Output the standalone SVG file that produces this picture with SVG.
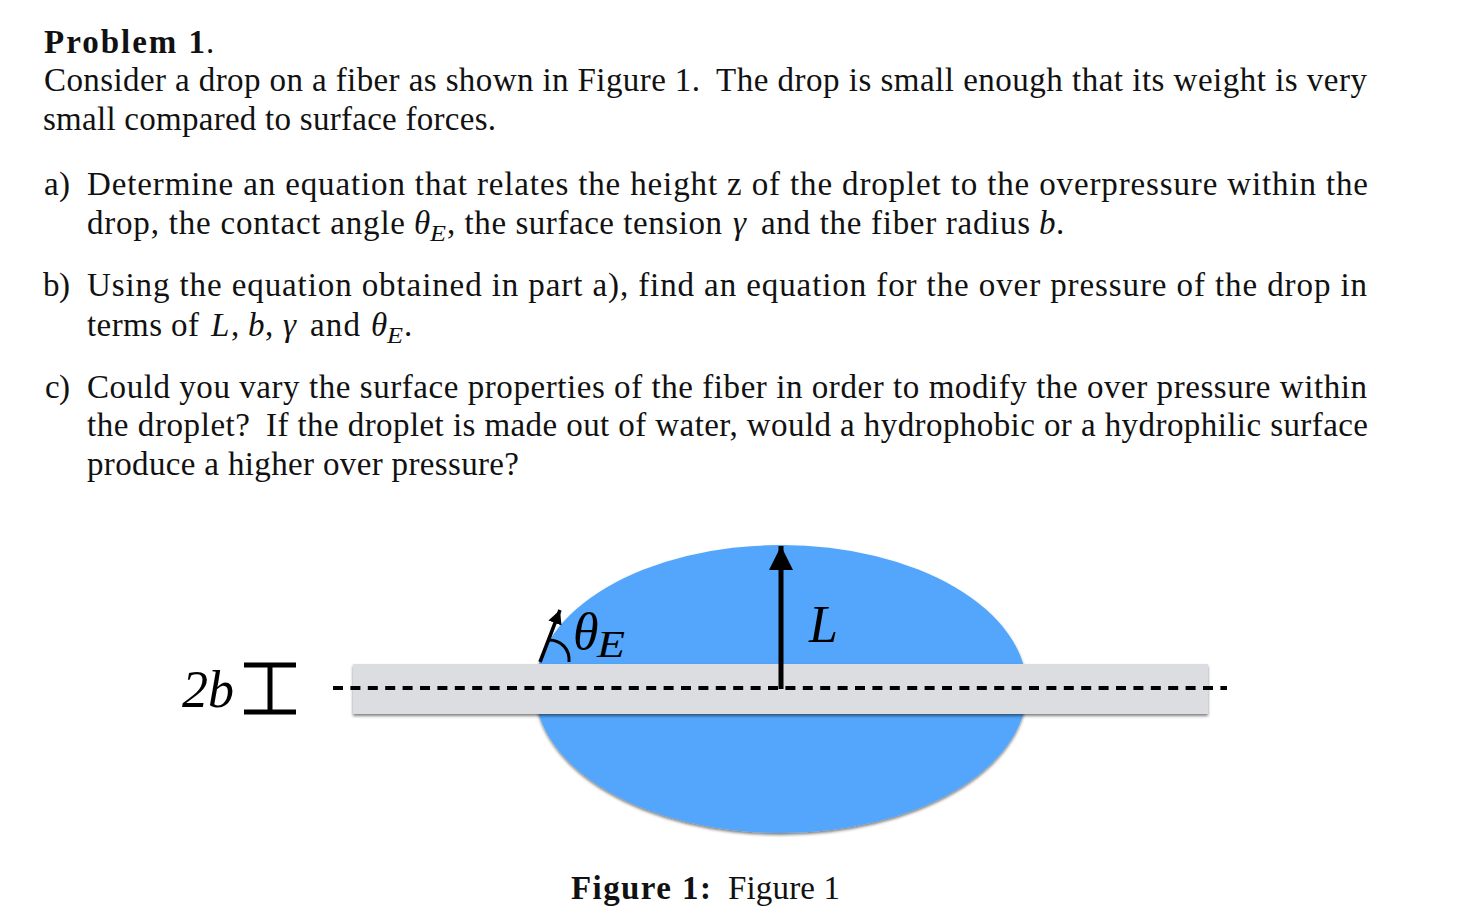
<svg xmlns="http://www.w3.org/2000/svg" width="1460" height="922" viewBox="0 0 1460 922">
<style>
text{font-family:"Liberation Serif","Times New Roman",serif;fill:#111;font-size:33px}
.b{font-weight:bold;font-size:33px}
.i{font-style:italic}
.s{font-style:italic;font-size:24px}
.big{font-style:italic;font-size:52px;fill:#000}
</style>
<defs>
<filter id="sh" x="-5%" y="-10%" width="110%" height="125%"><feDropShadow dx="0" dy="2" stdDeviation="1.5" flood-color="#000" flood-opacity="0.5"/></filter>
<marker id="h1" markerUnits="userSpaceOnUse" markerWidth="26" markerHeight="26" refX="24" refY="12" orient="auto"><path d="M0 0L24 12L0 24Z" fill="#000"/></marker>
<marker id="h2" markerUnits="userSpaceOnUse" markerWidth="16" markerHeight="16" refX="14" refY="7" orient="auto"><path d="M0 0L14 7L0 14Z" fill="#000"/></marker>
</defs>
<rect width="1460" height="922" fill="#fff"/>
<g id="problem-text">
<text class="b" x="44" y="53" textLength="161">Problem 1</text><text x="206" y="53">.</text>
<text x="44" y="91" textLength="656">Consider a drop on a fiber as shown in Figure 1.</text>
<text x="716" y="91" textLength="651">The drop is small enough that its weight is very</text>
<text x="43" y="130" textLength="453">small compared to surface forces.</text>
<text x="44" y="195" textLength="26">a)</text>
<text x="87" y="195" textLength="1281">Determine an equation that relates the height z of the droplet to the overpressure within the</text>
<text x="87" y="234" textLength="318">drop, the contact angle</text>
<text class="i" x="414" y="234">θ</text><text class="s" x="430" y="241" textLength="16" lengthAdjust="spacingAndGlyphs">E</text>
<text x="447" y="234" textLength="275">, the surface tension</text>
<text class="i" x="733" y="234">γ</text>
<text x="761" y="234" textLength="269">and the fiber radius</text>
<text class="i" x="1039" y="234">b</text><text x="1056" y="234">.</text>
<text x="43" y="296" textLength="27">b)</text>
<text x="87" y="296" textLength="1280">Using the equation obtained in part a), find an equation for the over pressure of the drop in</text>
<text x="87" y="336" textLength="112">terms of</text>
<text class="i" x="211" y="336">L</text><text x="231" y="336">,</text>
<text class="i" x="248" y="336">b</text><text x="265" y="336">,</text>
<text class="i" x="283" y="336">γ</text>
<text x="310" y="336" textLength="50">and</text>
<text class="i" x="371" y="336">θ</text><text class="s" x="387" y="343" textLength="16" lengthAdjust="spacingAndGlyphs">E</text><text x="404" y="336">.</text>
<text x="45" y="398" textLength="25">c)</text>
<text x="87" y="398" textLength="1280">Could you vary the surface properties of the fiber in order to modify the over pressure within</text>
<text x="87" y="436" textLength="163">the droplet?</text>
<text x="266" y="436" textLength="1102">If the droplet is made out of water, would a hydrophobic or a hydrophilic surface</text>
<text x="87" y="475" textLength="432">produce a higher over pressure?</text>
</g>
<g id="drop"><ellipse cx="781" cy="689" rx="246" ry="144" fill="#52a6fb" filter="url(#sh)"/></g>
<g id="fiber"><rect x="353" y="664" width="855" height="50" fill="#dcdde0" filter="url(#sh)"/></g>
<g id="connectors" fill="none" stroke="#000">
<line x1="333" y1="688" x2="1227" y2="688" stroke-width="4" stroke-dasharray="10 7.4"/>
<line x1="781" y1="689" x2="781" y2="546" stroke-width="5" marker-end="url(#h1)"/>
<line x1="540" y1="662" x2="560" y2="610" stroke-width="3.5" marker-end="url(#h2)"/>
<path d="M549 640C561 640 570 649 569 662" stroke-width="3"/>
</g>
<g id="bracket-2b" stroke="#000" stroke-width="5"><line x1="244" y1="665" x2="296" y2="665"/><line x1="244" y1="712" x2="296" y2="712"/><line x1="270" y1="665" x2="270" y2="712"/></g>
<g id="label-2b"><text class="big" x="182" y="707">2b</text></g>
<g id="label-theta"><text class="big" x="573" y="649">θ</text><text class="big" x="597" y="657" textLength="28" lengthAdjust="spacingAndGlyphs" style="font-size:37px">E</text></g>
<g id="label-L"><text class="big" x="809" y="642">L</text></g>
<g id="caption"><text class="b" x="571" y="899" textLength="140">Figure 1:</text><text x="728" y="899" textLength="112">Figure 1</text></g>
</svg>
